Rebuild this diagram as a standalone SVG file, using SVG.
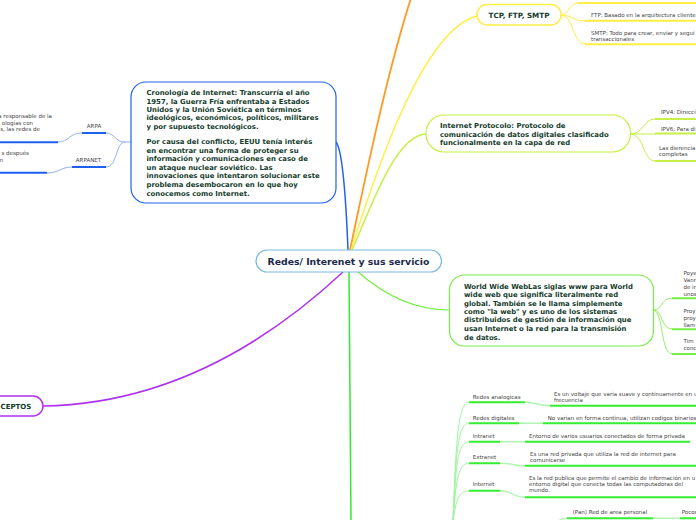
<svg xmlns="http://www.w3.org/2000/svg" width="696" height="520" viewBox="0 0 696 520">
<style>
.b{font-family:"DejaVu Sans",Verdana,sans-serif;font-weight:bold;fill:#133b2b;font-size:6.9px}
.s{font-family:"DejaVu Sans",Verdana,sans-serif;fill:#444;font-size:5.5px}
.c{fill:none;stroke-linecap:round}
</style>
<rect width="696" height="520" fill="#fff"/>
<g id="connectors">
<path class="c" d="M350,250 C365,180 385,80 411,-2" stroke="#ff9922" stroke-width="1.8"/>
<path class="c" d="M351,250 C370,190 420,30 477,16" stroke="#ffee44" stroke-width="1.5"/>
<path class="c" d="M352,250 C370,210 395,135 426,134" stroke="#c6f046" stroke-width="1.5"/>
<path class="c" d="M348,250 C346,200 343,150 336,142" stroke="#2060f0" stroke-width="1.5"/>
<path class="c" d="M358,272 C390,300 420,310 449,310" stroke="#77ee44" stroke-width="1.2"/>
<path class="c" d="M343,272 C270,340 170,404 43,406" stroke="#b030f0" stroke-width="1.5"/>
<path class="c" d="M349,272 L351,522" stroke="#33e833" stroke-width="1.5"/>
<path class="c" d="M131,142 L125,142 C115,142 115,133 106,133" stroke="#90b4f4" stroke-width="1"/>
<path class="c" d="M125,142 C115,142 118,167 106,167" stroke="#90b4f4" stroke-width="1"/>
<path class="c" d="M82,133 C68,133 70,142 58,142" stroke="#90b4f4" stroke-width="1"/>
<path class="c" d="M72,167 C60,167 60,173 47,173" stroke="#90b4f4" stroke-width="1"/>
<path d="M82,133 H106 M72,167 H106 M-2,142.3 H58 M-2,172.7 H47" stroke="#2060f0" stroke-width="2" fill="none"/>
<path class="c" d="M561,15 C570,15 568,3 578,3 M561,15 C572,15 572,21 585,21 M561,15 C574,15 572,44 585,44" stroke="#ffee44" stroke-width="1"/>
<path d="M578,3 H698 M585,20.7 H698 M585,44.3 H698" stroke="#ffee44" stroke-width="2" fill="none"/>
<path class="c" d="M630,134 C645,134 642,119 655,119 M630,134 H655 M630,134 C645,134 642,161 655,161" stroke="#c6f046" stroke-width="1"/>
<path d="M655,119 H698 M655,133.5 H698 M655,161 H698" stroke="#c6f046" stroke-width="2" fill="none"/>
<path class="c" d="M653,310 C664,310 660,298 672,298 M653,310 C664,310 660,329 672,329 M653,310 C664,310 660,354 672,354" stroke="#99f06a" stroke-width="1"/>
<path d="M672,298.3 H698 M672,329.3 H698 M672,354 H698" stroke="#77ee44" stroke-width="2" fill="none"/>
<path class="c" d="M453,522 C456,440 458,402 469,402 M453,522 C456,450 458,423 469,423 M453,522 C456,460 458,442 469,442 M453,522 C456,480 458,463 469,463 M453,522 C456,500 458,491 469,491" stroke="#9ef59e" stroke-width="1"/>
<path class="c" d="M525,402.3 C537,402.3 538,405.7 550,405.7 M519,423.3 H543 M500,441.7 H525 M500,463.3 C512,463.3 513,465.7 525,465.7 M500,490.7 C512,490.7 513,497.3 525,497.3 M653,518.3 H680 M567,518.3 C560,518.3 560,521 556,522" stroke="#aef7ae" stroke-width="1.4"/>
<path d="M469,402.3 H525 M550,405.7 H698 M469,423.3 H519 M543,423.3 H698 M469,441.7 H500 M525,441.7 H690 M469,463.3 H500 M525,465.7 H698 M469,490.7 H500 M525,497.3 H698 M567,518.3 H653 M680,518.3 H698" stroke="#33ee33" stroke-width="2" fill="none"/>
</g>
<g id="central">
<rect x="256" y="250" width="185.5" height="22" rx="11" fill="#fff" stroke="#7ab8e0" stroke-width="1.2"/>
<text class="b" x="348.5" y="265" text-anchor="middle" style="font-size:9.3px;fill:#1a2a4a">Redes/ Interenet y sus servicio</text>
</g>
<g id="cronologia">
<rect x="131" y="82" width="205" height="121" rx="15" fill="#fff" stroke="#2060f0" stroke-width="1.2"/>
<text class="b">
<tspan x="146.5" y="95">Cronología de Internet: Transcurría el año</tspan>
<tspan x="146.5" y="103.5">1957, la Guerra Fría enfrentaba a Estados</tspan>
<tspan x="146.5" y="112">Unidos y la Unión Soviética en términos</tspan>
<tspan x="146.5" y="120.3">ideológicos, económicos, políticos, militares</tspan>
<tspan x="146.5" y="128.7">y por supuesto tecnológicos.</tspan>
<tspan x="146.5" y="144">Por causa del conflicto, EEUU tenía interés</tspan>
<tspan x="146.5" y="152.5">en encontrar una forma de proteger su</tspan>
<tspan x="146.5" y="161">información y comunicaciones en caso de</tspan>
<tspan x="146.5" y="169.5">un ataque nuclear soviético. Las</tspan>
<tspan x="146.5" y="178">innovaciones que intentaron solucionar este</tspan>
<tspan x="146.5" y="186.7">problema desembocaron en lo que hoy</tspan>
<tspan x="146.5" y="195.5">conocemos como Internet.</tspan>
</text>
</g>
<g id="arpa">
<text class="s" x="94" y="127.5" text-anchor="middle">ARPA</text>
<text class="s" x="52" y="117.5" text-anchor="end">a responsable de la</text>
<text class="s" x="33" y="124.5" text-anchor="end">ologías con</text>
<text class="s" x="40" y="131" text-anchor="end">s, las redes de</text>
</g>
<g id="arpanet">
<text class="s" x="88.5" y="162" text-anchor="middle">ARPANET</text>
<text class="s" x="29" y="155" text-anchor="end">s después</text>
<text class="s" x="3" y="162" text-anchor="end">n</text>
</g>
<g id="tcp">
<rect x="477" y="4.5" width="84" height="20.5" rx="10" fill="#fff" stroke="#ffee44" stroke-width="1.5"/>
<text class="b" x="519" y="17.5" text-anchor="middle" style="font-size:7.2px">TCP, FTP, SMTP</text>
</g>
<g id="ftp"><text class="s" x="591" y="17">FTP: Basado en la arquitectura cliente</text></g>
<g id="smtp"><text class="s" x="591" y="35">SMTP: Todo para crear, enviar y segui</text><text class="s" x="591" y="41">transaccionales</text></g>
<g id="ip">
<rect x="426" y="115" width="204.5" height="37" rx="18" fill="#fff" stroke="#c6f046" stroke-width="1.2"/>
<text class="b"><tspan x="440" y="128">Internet Protocolo:  Protocolo de</tspan><tspan x="440" y="136.8">comunicación de datos digitales clasificado</tspan><tspan x="440" y="145">funcionalmente en la capa de red</tspan></text>
</g>
<g id="ipv4"><text class="s" x="661" y="114">IPV4: Direcci</text></g>
<g id="ipv6"><text class="s" x="661" y="131">IPV6: Para di</text></g>
<g id="dif"><text class="s" x="659" y="149.5">Las dierencia</text><text class="s" x="659" y="155.5">completas</text></g>
<g id="www">
<rect x="449.5" y="275" width="204" height="71" rx="15" fill="#fff" stroke="#77ee44" stroke-width="1.2"/>
<text class="b">
<tspan x="464" y="288.5">World Wide WebLas siglas www para World</tspan>
<tspan x="464" y="296.8">wide web que significa literalmente red</tspan>
<tspan x="464" y="305.5">global. También se le llama simplemente</tspan>
<tspan x="464" y="313.7">como "la web" y es uno de los sistemas</tspan>
<tspan x="464" y="322.3">distribuidos de gestión de información que</tspan>
<tspan x="464" y="330.7">usan Internet o la red para la transmisión</tspan>
<tspan x="464" y="339.5">de datos.</tspan>
</text>
</g>
<g id="www1"><text class="s"><tspan x="683.5" y="274.5">Poye</tspan><tspan x="683.5" y="281.5">Vann</tspan><tspan x="683.5" y="288.5">de in</tspan><tspan x="683.5" y="295.5">unos</tspan></text></g>
<g id="www2"><text class="s"><tspan x="683.5" y="313">Proy</tspan><tspan x="683.5" y="320">proy</tspan><tspan x="683.5" y="327">llam</tspan></text></g>
<g id="www3"><text class="s"><tspan x="683.5" y="343">Tim</tspan><tspan x="683.5" y="350">conc</tspan></text></g>
<g id="conceptos">
<rect x="-20" y="396" width="63" height="20" rx="10" fill="#fff" stroke="#b030f0" stroke-width="1.5"/>
<text class="b" x="0.5" y="408.5" style="font-size:7px">CEPTOS</text>
</g>
<g id="analogicas"><text class="s" x="472.7" y="399">Redes analogicas</text></g>
<g id="analogicas-d"><text class="s"><tspan x="554" y="395.5">Es un voltaje que varia suave y continuamente en u</tspan><tspan x="554" y="402">frecuencia</tspan></text></g>
<g id="digitales"><text class="s" x="472.7" y="419.7">Redes digitales</text></g>
<g id="digitales-d"><text class="s" x="547.7" y="419.7">No varian en forma continua, utilizan codigos binarios</text></g>
<g id="intranet"><text class="s" x="472.7" y="437.7">Intranet</text></g>
<g id="intranet-d"><text class="s" x="529" y="437.7">Entorno de varios usuarios conectados de forma privada</text></g>
<g id="extranet"><text class="s" x="472.7" y="458.7">Extranet</text></g>
<g id="extranet-d"><text class="s"><tspan x="530" y="456.3">Es una red privada que utiliza la red de internet para</tspan><tspan x="530" y="462.3">comunicarse</tspan></text></g>
<g id="internet"><text class="s" x="472.7" y="486.3">Internet</text></g>
<g id="internet-d"><text class="s"><tspan x="529" y="479.7">Es la red publica que permite el cambio de información en u</tspan><tspan x="529" y="486">entorno digital que conecta todas las computadoras del</tspan><tspan x="529" y="492.3">mundo.</tspan></text></g>
<g id="pan"><text class="s" x="572.7" y="513.7">(Pan) Red de area personal</text></g>
<g id="pocos"><text class="s" x="681.7" y="513.7">Pocos</text></g>
</svg>
